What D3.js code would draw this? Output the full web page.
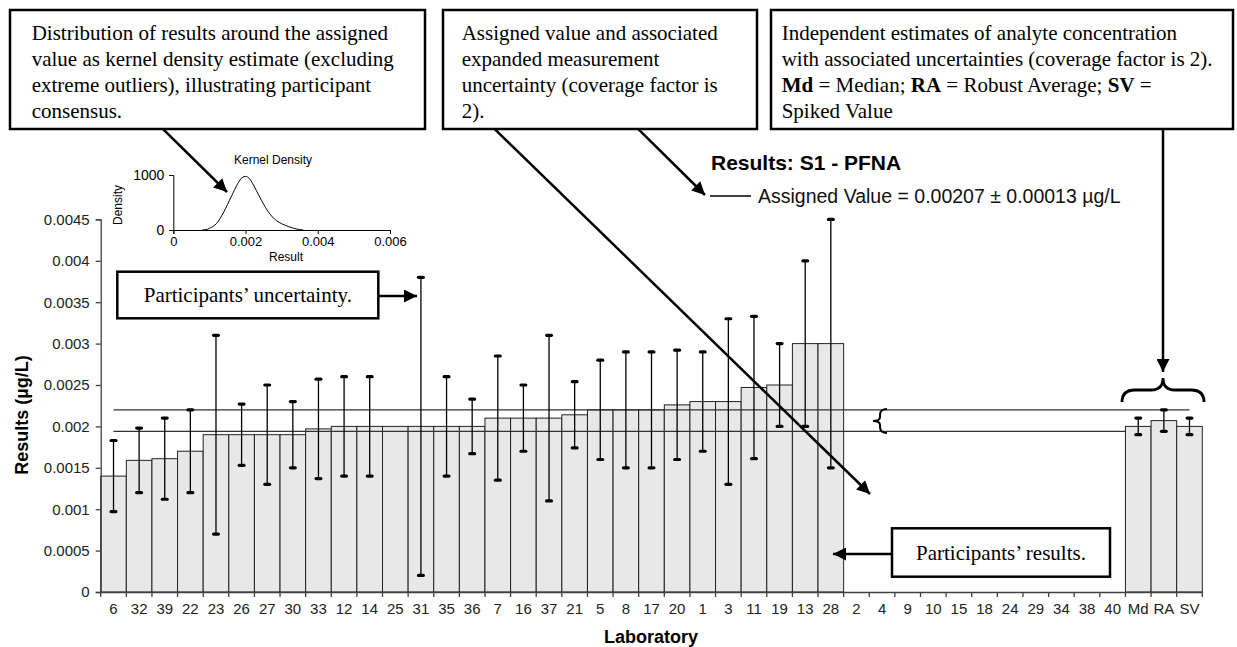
<!DOCTYPE html>
<html>
<head>
<meta charset="utf-8">
<script src="https://cdn.jsdelivr.net/npm/d3@7"></script>
<style>
  body { margin: 0; background: #fff; }
  svg { display: block; }
  .serif { font-family: "Liberation Serif", "Times New Roman", serif; font-size: 21px; fill: #000; }
  .sans { font-family: "Liberation Sans", Arial, sans-serif; }
</style>
</head>
<body>
<div id="chart"></div>
<script>
// participants, sorted by result
var labs = ['6','32','39','22','23','26','27','30','33','12','14','25','31','35','36','7','16','37','21','5','8','17','20','1','3','11','19','13','28']
var results = [0.0014,0.00159,0.00161,0.0017,0.0019,0.0019,0.0019,0.0019,0.00197,0.002,0.002,0.002,0.002,0.002,0.002,0.0021,0.0021,0.0021,0.00214,0.0022,0.0022,0.0022,0.00226,0.0023,0.0023,0.00247,0.0025,0.003,0.003]
var uncert = [0.00043,0.00039,0.00049,0.0005,0.0012,0.00037,0.0006,0.0004,0.0006,0.0006,0.0006,null,0.0018,0.0006,0.00033,0.00075,0.0004,0.001,0.0004,0.0006,0.0007,0.0007,0.00066,0.0006,0.001,0.00086,0.0005,0.001,0.0015]
// labs with no result reported
var noResult = ['2','4','9','10','15','18','24','29','34','38','40']
// independent estimates
var estLabels = ['Md','RA','SV']
var estValues = [0.002,0.00207,0.002]
var estUncert = [0.0001,0.00013,0.0001]

var assigned = 0.00207
var assignedU = 0.00013
var yTicks = [0,0.0005,0.001,0.0015,0.002,0.0025,0.003,0.0035,0.004,0.0045]

// kernel density curve
var kdX = [0.0008,0.0009,0.001,0.0012,0.0014,0.0016,0.0018,0.0019,0.002,0.0021,0.0022,0.0024,0.0026,0.0028,0.003,0.0032,0.0034,0.0036]
var kdY = [0,5,30,120,330,600,860,950,975,940,840,590,360,200,115,60,20,0]
var kdXTicks = [0,0.002,0.004,0.006]
var kdYTicks = [0,1000]

var width = 1237, height = 647

var svg = d3.select('#chart').append('svg')
    .attr('width', width)
    .attr('height', height)

var defs = svg.append('defs')
defs.append('marker')
    .attr('id', 'head')
    .attr('viewBox', '0 0 10 10')
    .attr('refX', 10).attr('refY', 5)
    .attr('markerWidth', 5.6).attr('markerHeight', 5.2)
    .attr('markerUnits', 'strokeWidth')
    .attr('orient', 'auto')
    .append('path').attr('d', 'M0,0 L10,5 L0,10 Z').attr('fill', '#000')

var allLabels = labs.concat(noResult).concat(estLabels)

var x = d3.scaleBand()
    .domain(allLabels)
    .range([100.7, 1202.3])
    .padding(0)

var y = d3.scaleLinear()
    .domain([0, 0.0045])
    .range([592, 219.4])

var bw = x.bandwidth()
var axisColor = '#404040'

// participant bars
svg.append('g')
    .selectAll('rect')
    .data(labs)
    .enter()
    .append('rect')
    .attr('x', function(d) { return x(d) })
    .attr('y', function(d, i) { return y(results[i]) })
    .attr('width', bw)
    .attr('height', function(d, i) { return y(0) - y(results[i]) })
    .attr('fill', '#e8e8e8')
    .attr('stroke', '#222')
    .attr('stroke-width', 1)

// assigned value +/- U lines
svg.append('g')
    .selectAll('line')
    .data([assigned + assignedU, assigned - assignedU])
    .enter()
    .append('line')
    .attr('x1', x(labs[0]) + bw / 2)
    .attr('x2', x('SV') + bw / 2)
    .attr('y1', function(d) { return y(d) })
    .attr('y2', function(d) { return y(d) })
    .attr('stroke', '#333')
    .attr('stroke-width', 1.3)

// estimate bars
svg.append('g')
    .selectAll('rect')
    .data(estLabels)
    .enter()
    .append('rect')
    .attr('x', function(d) { return x(d) })
    .attr('y', function(d, i) { return y(estValues[i]) })
    .attr('width', bw)
    .attr('height', function(d, i) { return y(0) - y(estValues[i]) })
    .attr('fill', '#e8e8e8')
    .attr('stroke', '#222')
    .attr('stroke-width', 1)

// error bars
function errorBars(names, vals, us) {
    var rows = names.map(function(n, i) { return { n: n, v: vals[i], u: us[i] } })
        .filter(function(r) { return r.u != null })
    var g = svg.append('g')
    g.selectAll('line')
        .data(rows)
        .enter()
        .append('line')
        .attr('x1', function(d) { return x(d.n) + bw / 2 })
        .attr('x2', function(d) { return x(d.n) + bw / 2 })
        .attr('y1', function(d) { return y(d.v + d.u) })
        .attr('y2', function(d) { return y(d.v - d.u) })
        .attr('stroke', '#000')
        .attr('stroke-width', 1.3)
    var caps = []
    rows.forEach(function(d) { caps.push([d.n, d.v + d.u]); caps.push([d.n, d.v - d.u]) })
    g.selectAll('rect')
        .data(caps)
        .enter()
        .append('rect')
        .attr('x', function(d) { return x(d[0]) + bw / 2 - 4 })
        .attr('y', function(d) { return y(d[1]) - 1.6 })
        .attr('width', 8)
        .attr('height', 3.2)
        .attr('rx', 1.6)
        .attr('fill', '#000')
}
errorBars(labs, results, uncert)
errorBars(estLabels, estValues, estUncert)

// y axis
var yAxis = svg.append('g')
    .attr('transform', 'translate(100.7,0)')
    .call(d3.axisLeft(y).tickValues(yTicks).tickSize(5).tickPadding(6)
        .tickFormat(function(d) { return d === 0 ? '0' : String(+d.toFixed(4)) }))
yAxis.select('.domain').attr('stroke', axisColor).attr('stroke-width', 1.3)
yAxis.selectAll('.tick line').attr('stroke', axisColor).attr('stroke-width', 1.3)
yAxis.selectAll('text').attr('class', 'sans').style('font-size', '15px').attr('fill', '#222')

// x axis
var xAxis = svg.append('g')
    .attr('transform', 'translate(0,592)')
    .call(d3.axisBottom(x).tickSize(0).tickPadding(11.4))
xAxis.select('.domain').attr('stroke', axisColor).attr('stroke-width', 1.3)
xAxis.selectAll('text').attr('class', 'sans').style('font-size', '15px').attr('fill', '#222')
xAxis.selectAll('.edge')
    .data(allLabels.concat(['end']))
    .enter()
    .append('line')
    .attr('x1', function(d) { return d === 'end' ? x.range()[1] : x(d) })
    .attr('x2', function(d) { return d === 'end' ? x.range()[1] : x(d) })
    .attr('y1', 0).attr('y2', 5)
    .attr('stroke', axisColor)
    .attr('stroke-width', 1.3)

svg.append('text')
    .attr('class', 'sans')
    .attr('x', 651).attr('y', 643)
    .attr('text-anchor', 'middle')
    .style('font-size', '18px').style('font-weight', 'bold')
    .text('Laboratory')

svg.append('text')
    .attr('class', 'sans')
    .attr('transform', 'translate(28,415) rotate(-90)')
    .attr('text-anchor', 'middle')
    .style('font-size', '18px').style('font-weight', 'bold')
    .text('Results (µg/L)')

// title and assigned value legend
svg.append('text')
    .attr('class', 'sans')
    .attr('x', 711).attr('y', 170)
    .style('font-size', '21px').style('font-weight', 'bold')
    .text('Results: S1 - PFNA')

svg.append('line')
    .attr('x1', 710).attr('x2', 751)
    .attr('y1', 196).attr('y2', 196)
    .attr('stroke', '#000').attr('stroke-width', 1.5)

svg.append('text')
    .attr('class', 'sans')
    .attr('x', 758).attr('y', 202.5)
    .style('font-size', '19.5px')
    .attr('fill', '#111')
    .text('Assigned Value = 0.00207 ± 0.00013 µg/L')

// kernel density inset
var kx = d3.scaleLinear().domain([0, 0.006]).range([173.3, 390])
var ky = d3.scaleLinear().domain([0, 1000]).range([230, 175])

var ins = svg.append('g')
var kxAxis = ins.append('g')
    .attr('transform', 'translate(0,230)')
    .call(d3.axisBottom(kx).tickValues(kdXTicks).tickSize(4).tickPadding(3)
        .tickFormat(function(d) { return d === 0 ? '0' : String(d) }))
var kyAxis = ins.append('g')
    .attr('transform', 'translate(173.3,0)')
    .call(d3.axisLeft(ky).tickValues(kdYTicks).tickSize(4).tickPadding(5)
        .tickFormat(function(d) { return String(d) }))
ins.selectAll('.domain').attr('stroke', '#000')
ins.selectAll('.tick line').attr('stroke', '#000')
ins.selectAll('text').attr('class', 'sans').attr('fill', '#000')
kxAxis.selectAll('text').style('font-size', '13px')
kyAxis.selectAll('text').style('font-size', '14px')

ins.append('path')
    .datum(kdX.map(function(v, i) { return [v, kdY[i]] }))
    .attr('d', d3.line().curve(d3.curveMonotoneX)
        .x(function(d) { return kx(d[0]) })
        .y(function(d) { return ky(d[1]) }))
    .attr('fill', 'none')
    .attr('stroke', '#000')
    .attr('stroke-width', 1)

ins.append('text').attr('class', 'sans')
    .attr('x', 273).attr('y', 164).attr('text-anchor', 'middle')
    .style('font-size', '12px').text('Kernel Density')
ins.append('text').attr('class', 'sans')
    .attr('x', 286).attr('y', 261).attr('text-anchor', 'middle')
    .style('font-size', '12px').text('Result')
ins.append('text').attr('class', 'sans')
    .attr('transform', 'translate(122,205) rotate(-90)').attr('text-anchor', 'middle')
    .style('font-size', '12px').text('Density')

// annotation boxes
var boxes = [
    { x: 10, y: 10, w: 415, h: 119, tx: 31.7, lines: [
        ['Distribution of results around the assigned'],
        ['value as kernel density estimate (excluding'],
        ['extreme outliers), illustrating participant'],
        ['consensus.']] },
    { x: 443, y: 10, w: 314, h: 119, tx: 461.7, lines: [
        ['Assigned value and associated'],
        ['expanded measurement'],
        ['uncertainty (coverage factor is'],
        ['2).']] },
    { x: 771, y: 10, w: 462, h: 119, tx: 781.7, lines: [
        ['Independent estimates of analyte concentration'],
        ['with associated uncertainties (coverage factor is 2).'],
        ['*Md', ' = Median; ', '*RA', ' = Robust Average; ', '*SV', ' ='],
        ['Spiked Value']] }
]

boxes.forEach(function(b) {
    svg.append('rect')
        .attr('x', b.x).attr('y', b.y)
        .attr('width', b.w).attr('height', b.h)
        .attr('fill', '#fff')
        .attr('stroke', '#000')
        .attr('stroke-width', 2.5)
    b.lines.forEach(function(parts, i) {
        var t = svg.append('text')
            .attr('class', 'serif')
            .attr('x', b.tx)
            .attr('y', 40 + i * 26)
        parts.forEach(function(p) {
            var bold = p.charAt(0) === '*'
            t.append('tspan')
                .style('font-weight', bold ? 'bold' : 'normal')
                .text(bold ? p.slice(1) : p)
        })
    })
})

var smallBoxes = [
    { x: 117.3, y: 271.7, w: 261, h: 46.6, label: 'Participants’ uncertainty.' },
    { x: 892, y: 528.3, w: 218, h: 48.4, label: 'Participants’ results.' }
]
smallBoxes.forEach(function(b) {
    svg.append('rect')
        .attr('x', b.x).attr('y', b.y)
        .attr('width', b.w).attr('height', b.h)
        .attr('fill', '#fff')
        .attr('stroke', '#000')
        .attr('stroke-width', 2.5)
    svg.append('text')
        .attr('class', 'serif')
        .attr('x', b.x + b.w / 2)
        .attr('y', b.y + b.h / 2 + 7)
        .attr('text-anchor', 'middle')
        .text(b.label)
})

// arrows
var arrows = [
    [163.3, 129.3, 227, 192],
    [495, 129.3, 870, 494],
    [638.6, 129.3, 705, 195],
    [1163, 129.3, 1163, 372],
    [378.3, 296, 417, 296],
    [892, 554, 833, 554]
]
svg.append('g')
    .selectAll('line')
    .data(arrows)
    .enter()
    .append('line')
    .attr('x1', function(d) { return d[0] })
    .attr('y1', function(d) { return d[1] })
    .attr('x2', function(d) { return d[2] })
    .attr('y2', function(d) { return d[3] })
    .attr('stroke', '#000')
    .attr('stroke-width', 2.5)
    .attr('marker-end', 'url(#head)')

// braces
svg.append('path')
    .attr('d', 'M1122,402 Q1122,390 1135,390 L1151,390 Q1163,390 1163,378 Q1163,390 1175,390 L1191,390 Q1204,390 1204,402')
    .attr('fill', 'none').attr('stroke', '#000').attr('stroke-width', 2.8)

svg.append('path')
    .attr('d', 'M887,409 Q880,409 880,415 L880,417 Q880,421 873,421 Q880,421 880,425 L880,427 Q880,433 887,433')
    .attr('fill', 'none').attr('stroke', '#000').attr('stroke-width', 2)
</script>
</body>
</html>
